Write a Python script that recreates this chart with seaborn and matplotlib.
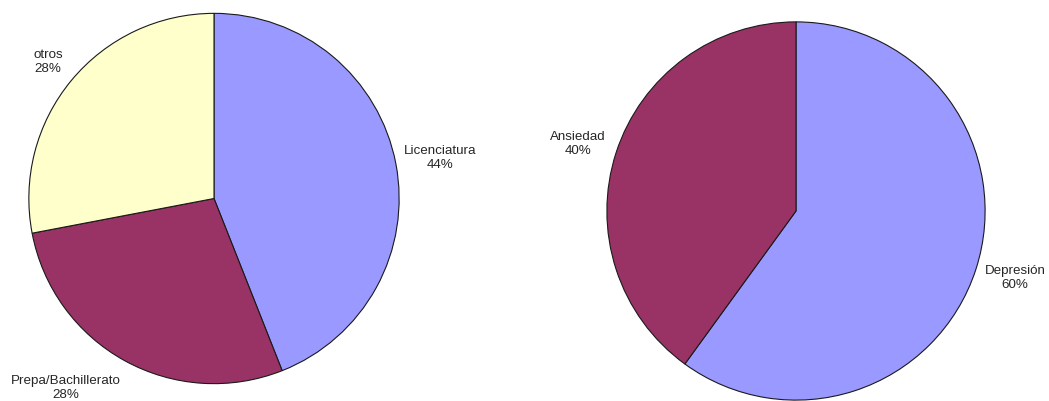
import matplotlib
matplotlib.use("Agg")
import matplotlib.pyplot as plt
import seaborn as sns

# Education level shares
edu_labels = ["Licenciatura", "Prepa/Bachillerato", "otros"]
edu_values = [44, 28, 28]
edu_colors = ["#9999FF", "#993366", "#FFFFCC"]

# Diagnosis shares
diag_labels = ["Depresión", "Ansiedad"]
diag_values = [60, 40]
diag_colors = ["#9999FF", "#993366"]

sns.set_theme(style="white")
plt.rcParams["font.family"] = ["Liberation Sans", "DejaVu Sans"]

W, H = 1049, 401
fig = plt.figure(figsize=(W / 100, H / 100), dpi=100)
fig.patch.set_facecolor("white")


def px_axes(x0, y0, x1, y1):
    """Axes from pixel box (top-left origin)."""
    return fig.add_axes([x0 / W, (H - y1) / H, (x1 - x0) / W, (y1 - y0) / H])


def draw_pie(ax, values, colors):
    ax.pie(values, colors=colors, startangle=90, counterclock=False,
           radius=1.0,
           wedgeprops=dict(edgecolor="#1a1a1a", linewidth=0.8))
    ax.set_xlim(-1.01, 1.01)
    ax.set_ylim(-1.01, 1.01)
    ax.set_aspect("equal")
    ax.axis("off")


ax1 = px_axes(27, 11, 401, 386)
draw_pie(ax1, edu_values, edu_colors)

ax2 = px_axes(605, 20, 987, 402)
draw_pie(ax2, diag_values, diag_colors)

# Category labels with percentages (pixel centres)
edu_label_pos = [(440, 158), (66, 388), (48, 62)]
diag_label_pos = [(1015, 278), (578, 144)]


def put_labels(labels, values, positions):
    for lab, val, (x, y) in zip(labels, values, positions):
        fig.text(x / W, (H - y) / H, f"{lab}\n{val}%", ha="center", va="center",
                 fontsize=9.6, color="#262626", linespacing=1.15)


put_labels(edu_labels, edu_values, edu_label_pos)
put_labels(diag_labels, diag_values, diag_label_pos)

fig.savefig("out.png", dpi=100, facecolor="white")
